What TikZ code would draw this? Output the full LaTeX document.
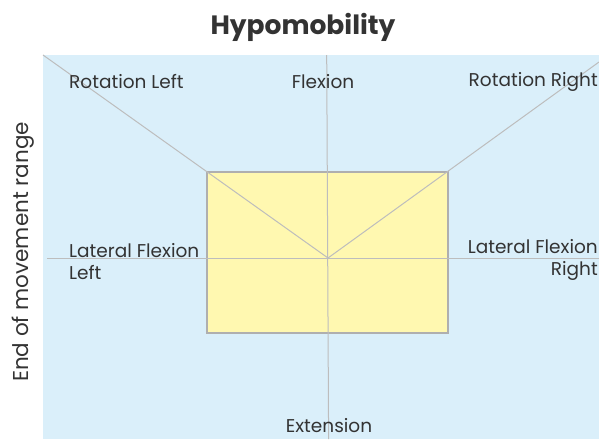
\documentclass[tikz,border=0pt]{standalone}
\usepackage{fontspec}
\setmainfont{Poppins}
\definecolor{bgblue}{HTML}{DAEFFA}
\definecolor{boxyellow}{HTML}{FFF8B0}
\definecolor{linegray}{HTML}{BDBDBD}
\definecolor{boxgray}{HTML}{AFAFAF}
\definecolor{txt}{HTML}{333333}
\begin{document}
\begin{tikzpicture}[x=1pt,y=-1pt,
  lbl/.style={text=txt,font=\fontsize{18.5}{22}\selectfont,inner sep=0pt},
  axisline/.style={draw=linegray,line width=1pt}]
\useasboundingbox (0,0) rectangle (599,439);
\fill[bgblue] (43,55) rectangle (599,439);
\node[text=txt,font=\fontsize{26.5}{30}\selectfont\bfseries] (title) at (303,27) {Hypomobility};
\node[lbl,rotate=90,font=\fontsize{21.5}{24}\selectfont] (ylab) at (23,252) {End of movement range};
\node[draw=boxgray,fill=boxyellow,line width=1.2pt,minimum width=241pt,minimum height=161pt,inner sep=0pt] (box) at (327.5,252.5) {};
\coordinate (c) at (328,258);
\coordinate (tl) at (43,55);
\coordinate (tr) at (599,62);
\coordinate (vt) at (326.7,55);
\coordinate (vb) at (328.6,439);
\coordinate (hl) at (47,258);
\coordinate (hr) at (599,258);
\draw[axisline] (tl) -- (c) -- (tr);
\draw[axisline] (vt) -- (vb);
\draw[axisline] (hl) -- (hr);
\node[lbl,anchor=west] (rl) at (69,82) {Rotation Left};
\node[lbl] (fl) at (323,82) {Flexion};
\node[lbl,anchor=east] (rr) at (598,82) {Rotation Right};
\node[lbl,anchor=west,align=left] (lfl) at (69,262) {Lateral Flexion\\Left};
\node[lbl,anchor=east,align=right] (lfr) at (598,260) {Lateral Flexion\\Right};
\node[lbl] (ext) at (329,426) {Extension};
\end{tikzpicture}
\end{document}
